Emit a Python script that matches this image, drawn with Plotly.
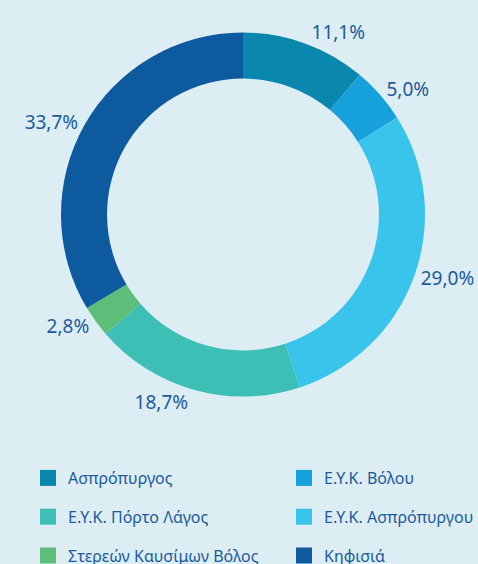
import plotly.graph_objects as go

labels = ["Ασπρόπυργος", "Ε.Υ.Κ. Βόλου", "Ε.Υ.Κ. Ασπρόπυργου",
          "Ε.Υ.Κ. Πόρτο Λάγος", "Στερεών Καυσίμων Βόλος", "Κηφισιά"]
values = [11.1, 5.0, 29.0, 18.7, 2.8, 33.7]
text_labels = ["11,1%", "5,0%", "29,0%", "18,7%", "2,8%", "33,7%"]
colors = ["#0a87ad", "#16a0dc", "#38c4eb", "#3dbfb5", "#5dbe7a", "#0d5a9e"]
# legend layout: two columns, row-wise order as in the reference
legend_col1 = [0, 3, 4]
legend_col2 = [1, 2, 5]

W, H = 478, 564
dcx, dcy, dr = 243, 214.5, 182  # domain centre / half-size in px

fig = go.Figure()
fig.add_trace(go.Pie(
    labels=labels, values=values, text=text_labels,
    texttemplate="%{text}", textinfo="text", textposition="outside",
    hole=0.747, sort=False, direction="clockwise", rotation=0,
    marker=dict(colors=colors, line=dict(width=0)),
    outsidetextfont=dict(size=19, color="#1d5b9c", family="Noto Sans"),
    domain=dict(x=[(dcx - dr) / W, (dcx + dr) / W],
                y=[(H - dcy - dr) / H, (H - dcy + dr) / H]),
    hoverinfo="label+text", showlegend=False,
))

for col, legname in ((legend_col1, "legend"), (legend_col2, "legend2")):
    for i in col:
        fig.add_trace(go.Scatter(
            x=[None], y=[None], mode="markers", name=labels[i],
            marker=dict(symbol="square", size=16, color=colors[i]),
            legend=legname, legendgroup=labels[i], hoverinfo="skip",
        ))

leg_common = dict(orientation="v", yanchor="top", xanchor="left",
                  xref="container", yref="container",
                  y=(H - 461) / H, tracegroupgap=15,
                  font=dict(size=16, color="#1d5b9c", family="Noto Sans"),
                  bgcolor="rgba(0,0,0,0)", itemclick=False, itemdoubleclick=False)

fig.update_layout(
    width=W, height=H,
    margin=dict(l=0, r=0, t=0, b=0, autoexpand=False),
    paper_bgcolor="#dcedf4", plot_bgcolor="#dcedf4",
    font=dict(family="Noto Sans", color="#1d5b9c"),
    xaxis=dict(visible=False), yaxis=dict(visible=False),
    legend=dict(x=28 / W, **leg_common),
    legend2=dict(x=284 / W, **leg_common),
)

fig.write_html("out.html", config={"displayModeBar": False},
               post_script="document.body.style.margin='0';document.body.style.overflow='hidden';")
